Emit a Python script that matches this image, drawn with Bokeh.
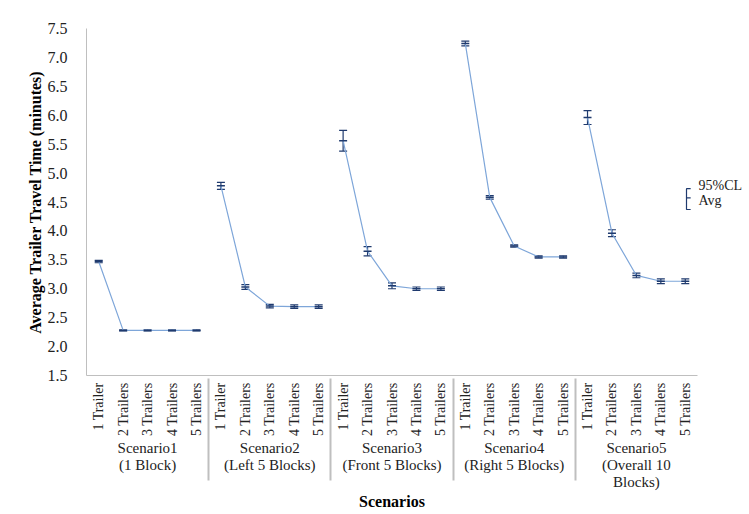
from bokeh.plotting import figure
from bokeh.models import (FactorRange, ColumnDataSource, Whisker, TeeHead, Range1d,
                          SingleIntervalTicker, FixedTicker, LinearAxis, CustomJSTickFormatter)
from bokeh.embed import file_html
from bokeh.resources import INLINE

scenarios = ["Scenario1\n(1 Block)", "Scenario2\n(Left 5 Blocks)", "Scenario3\n(Front 5 Blocks)",
             "Scenario4\n(Right 5 Blocks)", "Scenario5\n(Overall 10\nBlocks)"]
trailers = ["1 Trailer", "2 Trailers", "3 Trailers", "4 Trailers", "5 Trailers"]

avg_s1 = [3.47, 2.28, 2.28, 2.28, 2.28]
avg_s2 = [4.78, 3.03, 2.70, 2.69, 2.69]
avg_s3 = [5.56, 3.65, 3.05, 3.00, 3.00]
avg_s4 = [7.24, 4.58, 3.74, 3.55, 3.55]
avg_s5 = [5.96, 3.96, 3.23, 3.13, 3.13]

ci_s1 = [0.02, 0.01, 0.01, 0.01, 0.01]
ci_s2 = [0.06, 0.04, 0.03, 0.03, 0.03]
ci_s3 = [0.18, 0.08, 0.05, 0.03, 0.03]
ci_s4 = [0.04, 0.03, 0.02, 0.02, 0.02]
ci_s5 = [0.12, 0.06, 0.04, 0.04, 0.04]

legend_ticks = [4.79, 4.53]
legend_labels = ["95%CL", "Avg"]

avgs = [avg_s1, avg_s2, avg_s3, avg_s4, avg_s5]
cis = [ci_s1, ci_s2, ci_s3, ci_s4, ci_s5]

factors = [(s, t) for s in scenarios for t in trailers]

FONT = "Liberation Serif"
LINE = "#7EA6D9"
DARK = "#1F3A6E"
GRAY = "#BFBFBF"

p = figure(x_range=FactorRange(*factors, group_padding=0, factor_padding=0, range_padding=0),
           y_range=Range1d(1.5, 7.5), width=745, height=512,
           output_backend="svg", toolbar_location=None,
           min_border_left=86, min_border_right=47, min_border_top=28, min_border_bottom=137)

p.xgrid.visible = False
p.ygrid.visible = False
p.outline_line_color = None
p.background_fill_color = "white"

for s, a, c in zip(scenarios, avgs, cis):
    src = ColumnDataSource(dict(x=[(s, t) for t in trailers], y=a,
                                upper=[v + e for v, e in zip(a, c)],
                                lower=[v - e for v, e in zip(a, c)]))
    p.line("x", "y", source=src, line_color=LINE, line_width=1.2)
    w = Whisker(source=src, base="x", upper="upper", lower="lower",
                line_color=DARK, line_width=1.2,
                upper_head=TeeHead(size=8, line_color=DARK, line_width=1.2),
                lower_head=TeeHead(size=8, line_color=DARK, line_width=1.2))
    p.add_layout(w)
    p.scatter("x", "y", source=src, marker="dash", size=8, line_color=DARK, line_width=1.5)

# y axis
p.yaxis.ticker = SingleIntervalTicker(interval=0.5)
p.yaxis.formatter = CustomJSTickFormatter(code="return tick.toFixed(1);")
p.yaxis.axis_label = "Average Trailer Travel Time (minutes)"
p.yaxis.axis_label_text_font = FONT
p.yaxis.axis_label_text_font_style = "bold"
p.yaxis.axis_label_text_font_size = "16px"
p.yaxis.axis_label_text_color = "black"
p.yaxis.axis_label_standoff = 1
p.yaxis.major_label_text_font = FONT
p.yaxis.major_label_text_font_size = "16px"
p.yaxis.major_label_text_color = "#222222"
p.yaxis.major_label_standoff = 13
p.yaxis.major_tick_line_color = None
p.yaxis.minor_tick_line_color = None
p.yaxis.axis_line_color = GRAY

# x axis
p.xaxis.axis_label = "Scenarios"
p.xaxis.axis_label_text_font = FONT
p.xaxis.axis_label_text_font_style = "bold"
p.xaxis.axis_label_text_font_size = "16px"
p.xaxis.axis_label_text_color = "black"
p.xaxis.axis_label_standoff = 0
p.xaxis.major_label_orientation = 1.5708
p.xaxis.major_label_standoff = 1
p.xaxis.major_label_text_font = FONT
p.xaxis.major_label_text_font_size = "14px"
p.xaxis.major_label_text_color = "#222222"
p.xaxis.group_text_font = FONT
p.xaxis.group_text_font_size = "15px"
p.xaxis.group_text_line_height = 1.05
p.xaxis.group_text_color = "#222222"
p.xaxis.group_text_font_style = "normal"
p.xaxis.major_tick_line_color = None
p.xaxis.axis_line_color = GRAY
p.xaxis.separator_line_color = GRAY

# legend (95%CL / Avg bracket)
p.line(x=[24.72, 24.55, 24.55, 24.72], y=[4.73, 4.73, 4.37, 4.37], line_color=DARK, line_width=1.2)
p.line(x=[24.55, 24.72], y=[4.57, 4.57], line_color=DARK, line_width=1.2)
legend_axis = LinearAxis(ticker=FixedTicker(ticks=legend_ticks),
                         major_label_overrides=dict(zip(legend_ticks, legend_labels)),
                         axis_line_color=None, major_tick_line_color=None,
                         minor_tick_line_color=None, major_label_standoff=-5,
                         major_label_text_font=FONT, major_label_text_font_size="14px",
                         major_label_text_color="#222222")
p.add_layout(legend_axis, "right")

open("out.html", "w").write(file_html(p, INLINE))
